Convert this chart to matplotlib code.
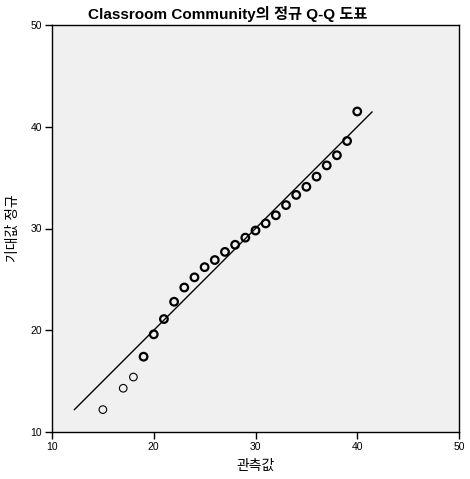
import matplotlib.pyplot as plt

plt.rcParams['font.family'] = ['Liberation Sans', 'Noto Sans CJK KR', 'DejaVu Sans']

# observed values and expected normal values
observed = [15, 17, 18, 19, 20, 21, 22, 23, 24, 25, 26, 27, 28, 29, 30,
            31, 32, 33, 34, 35, 36, 37, 38, 39, 40]
expected = [12.2, 14.3, 15.4, 17.4, 19.6, 21.1, 22.8, 24.2, 25.2, 26.2, 26.9,
            27.7, 28.4, 29.1, 29.8, 30.5, 31.3, 32.3, 33.3, 34.1, 35.1, 36.2,
            37.2, 38.6, 41.5]
# how many cases at each point (duplicates look heavier)
counts = [1, 1, 1, 2, 2, 2, 2, 2, 2, 2, 2, 2, 2, 2, 2,
          2, 2, 2, 2, 2, 2, 2, 2, 2, 2]
ref_line = [12.2, 41.45]

fig = plt.figure(figsize=(4.7, 4.79), dpi=100)
ax = fig.add_axes([52 / 470, 1 - 432 / 479, 407 / 470, 407 / 479])
ax.set_facecolor('#f0f0f0')

ax.plot(ref_line, ref_line, color='black', linewidth=1)
for x, y, c in zip(observed, expected, counts):
    ax.scatter(x, y, s=30, facecolors='none', edgecolors='black',
               linewidths=0.8 if c == 1 else 1.6, zorder=3)

ax.set_xlim(10, 50)
ax.set_ylim(10, 50)
ax.set_xticks([10, 20, 30, 40, 50])
ax.set_yticks([10, 20, 30, 40, 50])
ax.tick_params(direction='out', length=5, width=1, labelsize=7.5, pad=2)
for s in ax.spines.values():
    s.set_color('black')
    s.set_linewidth(1)

ax.set_xlabel('관측값', fontsize=10)
ax.set_ylabel('기대값 정규', fontsize=10)
ax.xaxis.set_label_coords(0.5, -0.066)
ax.yaxis.set_label_coords(-0.08, 0.5)
fig.text(228 / 470, 1 - 14 / 479, 'Classroom Community의 정규 Q-Q 도표',
         ha='center', va='center', fontsize=11, fontweight='bold')

plt.savefig('out.png', dpi=100)
